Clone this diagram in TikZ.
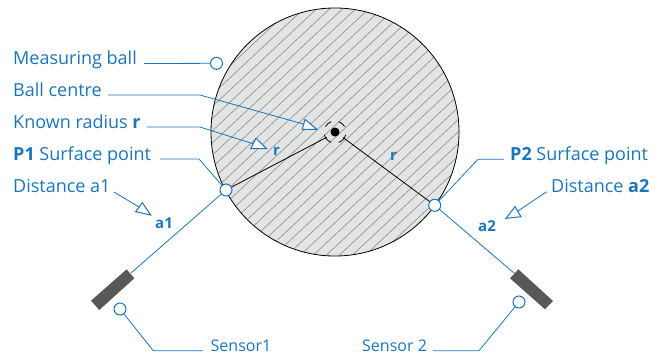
\documentclass[tikz,border=0pt]{standalone}
\usepackage{fontspec}
\usetikzlibrary{calc}
\setmainfont{Open Sans}
\definecolor{lblue}{HTML}{1B75BB}
\definecolor{ballfill}{HTML}{E3E4E4}
\definecolor{hatch}{HTML}{8C8C8C}
\definecolor{sensorgrey}{HTML}{58585A}
\tikzset{
  lbl/.style={anchor=base west,inner sep=0pt,text=lblue,font=\fontsize{18}{20}\selectfont},
  slbl/.style={lbl,font=\fontsize{16}{18}\selectfont},
  blbl/.style={lbl,font=\fontsize{15}{17}\selectfont\bfseries},
  marker/.style={circle,draw=lblue,fill=white,line width=1pt,minimum size=12pt,inner sep=0pt},
  leader/.style={draw=lblue,line width=0.8pt},
  tri/.style={draw=lblue,fill=white,line width=1pt,line join=miter},
  radiusline/.style={draw=black,line width=0.8pt}
}
\begin{document}
\begin{tikzpicture}[x=1pt,y=-1pt]
\useasboundingbox (0,0) rectangle (661,354);
\coordinate (C) at (335,132);
% ball
\fill[ballfill] (C) circle[radius=124];
\begin{scope}
  \clip (C) circle[radius=124];
  \foreach \d in {-25,...,25}{
    \draw[hatch,line width=0.6pt] ($(C)+(\d*13+6-200,187)$) -- ($(C)+(\d*13+6+200,-187)$);
  }
\end{scope}
\draw[black,line width=0.8pt] (C) circle[radius=124];
% centre mark
\fill[black] (C) circle[radius=4.5];
\foreach \a/\b in {-110/-150,-30/-70,-195/-250,-290/-345}{
  \draw[black,line width=0.8pt] (C) ++(\a:11) arc[start angle=\a,end angle=\b,radius=11];
}
% markers
\node[marker] (mBall) at (216.5,63.3) {};
\node[marker] (mS1) at (120,309) {};
\node[marker] (mS2) at (519,302) {};
% sensors
\fill[sensorgrey] (126.7,269.3) -- (134.3,278.3) -- (99.3,310) -- (91,300.7) -- cycle;
\fill[sensorgrey] (518.3,269.3) -- (553,301) -- (545,309.3) -- (510,278.3) -- cycle;
\coordinate (sensorA) at (131,273);
\coordinate (sensorB) at (514,273);
% radii
\coordinate (rA) at (326.7,137.3);
\coordinate (rB) at (343,137.5);
\node[marker] (P1) at (226,190) {};
\node[marker] (P2) at (434.7,205.3) {};
\draw[radiusline] (P1) -- (rA);
\draw[radiusline] (P2) -- (rB);
\draw[leader] (P1) -- (sensorA);
\draw[leader] (P2) -- (sensorB);
% labels
\node[lbl] (tBall) at (13,64) {Measuring ball};
\node[lbl] (tCentre) at (13,96) {Ball centre};
\node[lbl] (tRadius) at (13,128) {Known radius \textbf{r}};
\node[lbl] (tP1) at (13,160) {\textbf{P1} Surface point};
\node[lbl] (tA1) at (13,192) {Distance a1};
\node[lbl] (tP2) at (510,160.5) {\textbf{P2} Surface point};
\node[lbl] (tA2) at (551,192) {Distance \textbf{a2}};
\node[slbl] (tS1) at (210.5,351.5) {Sensor1};
\node[slbl] (tS2) at (362,351.5) {Sensor 2};
\node[blbl] (lr1) at (273,155) {r};
\node[blbl] (lr2) at (390,160) {r};
\node[blbl] (la1) at (155,228) {a1};
\node[blbl] (la2) at (478,231) {a2};
% leaders
\coordinate (bCentre) at (200,95);
\coordinate (bRadius) at (200,127);
\coordinate (bP1) at (199,159);
\coordinate (bP2) at (478,159.3);
\coordinate (bS1) at (153.3,350.7);
\coordinate (bS2) at (479,350.7);
\coordinate (eBall) at (144,63.5);
\coordinate (eCentreA) at (108,95);
\coordinate (eCentreB) at (305,124.5);
\coordinate (eRadiusA) at (147,127);
\coordinate (eRadiusB) at (254,144);
\coordinate (eP1) at (160,159);
\coordinate (eA1a) at (114,192);
\coordinate (eA1b) at (139,207);
\coordinate (eP2) at (504,159.3);
\coordinate (eA2a) at (546.7,191.7);
\coordinate (eA2b) at (518,211);
\coordinate (eS1) at (203,350.7);
\coordinate (eS2) at (433,350.7);
\draw[leader] (eBall) -- (mBall);
\draw[leader] (eCentreA) -- (bCentre) -- (eCentreB);
\draw[leader] (eRadiusA) -- (bRadius) -- (eRadiusB);
\draw[leader] (eP1) -- (bP1) -- (P1);
\draw[leader] (eA1a) -- (eA1b);
\draw[leader] (eP2) -- (bP2) -- (P2);
\draw[leader] (eA2a) -- (eA2b);
\draw[leader] (mS1) -- (bS1) -- (eS1);
\draw[leader] (mS2) -- (bS2) -- (eS2);
% open arrowheads
\draw[tri] (316.7,129.3) -- (305,119.3) -- (302.3,129.3) -- cycle;
\draw[tri] (266.7,148.7) -- (256,138.3) -- (250.7,148.7) -- cycle;
\draw[tri] (150.7,215) -- (142.3,202.7) -- (135.7,211.7) -- cycle;
\draw[tri] (506,218.3) -- (515,206.7) -- (521,216.7) -- cycle;
\end{tikzpicture}
\end{document}
